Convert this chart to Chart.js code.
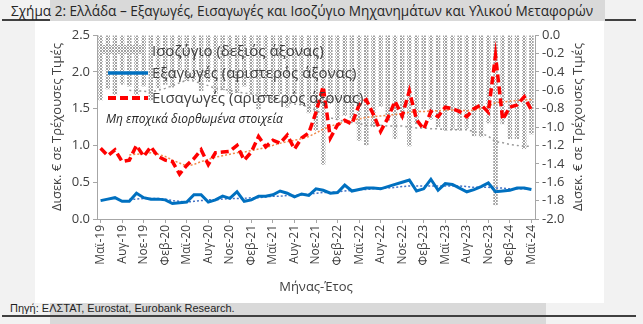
<!DOCTYPE html>
<html>
<head>
<meta charset="utf-8">
<script src="https://cdn.jsdelivr.net/npm/chart.js@4.4.1/dist/chart.umd.min.js"></script>
<style>
  html, body { margin: 0; padding: 0; background: #f2f2f2; }
  #wrap { position: relative; width: 643px; height: 324px; overflow: hidden; background: #f2f2f2;
          font-family: 'Open Sans', 'Noto Sans', sans-serif; color: #404040; }
  .abs { position: absolute; white-space: nowrap; }
  #panel { left: 35px; top: 21px; width: 569px; height: 282px; background: #fff; }
  #chart { position: absolute; left: 35px; top: 21px; }
  .leg { font-size: 15px; line-height: 20px; color: #404040; }
</style>
</head>
<body>
<div id="wrap">
  <div class="abs" style="left:2px;top:19px;width:634px;height:2px;background:#404040"></div>
  <div class="abs" style="left:50px;top:0;width:555px;height:21px;background:#d9d9d9"></div>
  <div class="abs" style="left:11px;top:2px;font-size:13.6px;line-height:18px;color:#262626">Σχήμα 2: Ελλάδα – Εξαγωγές, Εισαγωγές και Ισοζύγιο Μηχανημάτων και Υλικού Μεταφορών</div>

  <div class="abs" id="panel"></div>
  <div class="abs" style="left:50px;top:303px;width:496px;height:21px;background:#d9d9d9"></div>
  <div class="abs" style="left:2px;top:315px;width:634px;height:2px;background:#404040"></div>
  <div class="abs" style="left:10px;top:301px;font-family:'Liberation Sans Narrow','Liberation Sans',sans-serif;font-size:11px;line-height:14px;color:#1f1f1f">Πηγή: ΕΛΣΤΑΤ, Eurostat, Eurobank Research.</div>

  <canvas id="chart" width="569" height="282"></canvas>

  <!-- legend, drawn over the plot -->
  <div class="abs" id="legHatch" style="left:101px;top:45px;width:44px;height:9px"></div>
  <div class="abs leg" style="left:152px;top:40px">Ισοζύγιο (δεξιός άξονας)</div>
  <svg class="abs" style="left:106px;top:68px" width="44" height="10"><line x1="2" y1="5" x2="42" y2="5" stroke="#0070c0" stroke-width="3.5"/></svg>
  <div class="abs leg" style="left:152px;top:62px">Εξαγωγές (αριστερός άξονας)</div>
  <svg class="abs" style="left:106px;top:93px" width="44" height="10"><line x1="2" y1="5" x2="42" y2="5" stroke="#ff0000" stroke-width="4" stroke-dasharray="8 4"/></svg>
  <div class="abs leg" style="left:152px;top:87px">Εισαγωγές (αριστερός άξονας)</div>
  <div class="abs" style="left:106px;top:111px;font-size:12px;line-height:16px;font-style:italic;color:#262626">Μη εποχικά διορθωμένα στοιχεία</div>

  <div class="abs" style="left:577px;top:127px;font-size:13px;line-height:16px;transform:translate(-50%,-50%) rotate(-90deg)">Δισεκ. € σε Τρέχουσες Τιμές</div>
</div>

<script>
// ---- DATA (monthly, May 2019 - May 2024) ----
const months = [
  'Μαϊ-19','Ιουν-19','Ιουλ-19','Αυγ-19','Σεπ-19','Οκτ-19','Νοε-19','Δεκ-19',
  'Ιαν-20','Φεβ-20','Μαρ-20','Απρ-20','Μαϊ-20','Ιουν-20','Ιουλ-20','Αυγ-20','Σεπ-20','Οκτ-20','Νοε-20','Δεκ-20',
  'Ιαν-21','Φεβ-21','Μαρ-21','Απρ-21','Μαϊ-21','Ιουν-21','Ιουλ-21','Αυγ-21','Σεπ-21','Οκτ-21','Νοε-21','Δεκ-21',
  'Ιαν-22','Φεβ-22','Μαρ-22','Απρ-22','Μαϊ-22','Ιουν-22','Ιουλ-22','Αυγ-22','Σεπ-22','Οκτ-22','Νοε-22','Δεκ-22',
  'Ιαν-23','Φεβ-23','Μαρ-23','Απρ-23','Μαϊ-23','Ιουν-23','Ιουλ-23','Αυγ-23','Σεπ-23','Οκτ-23','Νοε-23','Δεκ-23',
  'Ιαν-24','Φεβ-24','Μαρ-24','Απρ-24','Μαϊ-24'
];

const exportsBn = [
  0.25,0.27,0.29,0.24,0.24,0.35,0.29,0.27,0.27,0.26,
  0.21,0.22,0.23,0.33,0.33,0.23,0.26,0.31,0.28,0.37,
  0.24,0.26,0.31,0.31,0.33,0.38,0.35,0.30,0.34,0.32,
  0.41,0.39,0.35,0.36,0.46,0.38,0.40,0.42,0.42,0.41,
  0.44,0.47,0.50,0.53,0.38,0.41,0.54,0.39,0.48,0.47,
  0.42,0.37,0.40,0.44,0.49,0.37,0.38,0.39,0.42,0.42,0.40
];

const importsBn = [
  0.96,0.86,0.94,0.78,0.80,1.00,0.85,0.98,0.85,0.80,
  0.78,0.61,0.73,0.82,0.94,0.74,0.90,0.91,0.92,1.00,
  0.80,0.91,1.12,0.98,1.07,1.03,1.14,0.95,1.10,1.17,
  1.45,1.80,1.10,1.28,1.34,1.29,1.55,1.62,1.42,1.19,
  1.37,1.60,1.40,1.74,1.35,1.22,1.46,1.39,1.52,1.50,
  1.46,1.39,1.50,1.55,1.45,2.22,1.35,1.52,1.55,1.66,1.48
];

const balanceBn = [
  -0.71,-0.59,-0.65,-0.54,-0.56,-0.65,-0.56,-0.71,-0.58,-0.54,
  -0.57,-0.39,-0.50,-0.49,-0.61,-0.51,-0.64,-0.60,-0.64,-0.63,
  -0.56,-0.65,-0.81,-0.67,-0.74,-0.65,-0.79,-0.65,-0.76,-0.85,
  -1.04,-1.41,-0.75,-0.92,-0.88,-0.91,-1.15,-1.20,-1.00,-0.78,
  -0.93,-1.13,-0.90,-1.21,-0.97,-0.81,-0.92,-1.00,-1.04,-1.03,
  -1.04,-1.02,-1.10,-1.11,-0.96,-1.85,-0.97,-1.13,-1.13,-1.24,-1.08
];

// trend lines (dotted)
const exportsTrend = [
  null,null,null,null,0.27,0.27,0.28,0.28,0.28,0.27,
  0.25,0.24,0.23,0.24,0.25,0.26,0.26,0.27,0.28,0.28,
  0.28,0.29,0.29,0.30,0.31,0.31,0.32,0.32,0.33,0.34,
  0.35,0.36,0.36,0.37,0.38,0.39,0.40,0.40,0.41,0.42,
  0.42,0.43,0.44,0.45,0.45,0.45,0.45,0.45,0.45,0.45,
  0.45,0.44,0.43,0.43,0.43,0.42,0.42,0.41,0.41,0.41,0.41
];

const importsTrend = [
  null,null,null,null,0.87,0.88,0.89,0.90,0.88,0.85,
  0.80,0.76,0.72,0.74,0.78,0.81,0.84,0.86,0.88,0.90,
  0.91,0.93,0.95,0.97,1.00,1.03,1.05,1.07,1.09,1.12,
  1.17,1.22,1.26,1.29,1.32,1.34,1.36,1.38,1.39,1.40,
  1.41,1.42,1.43,1.45,1.46,1.46,1.47,1.47,1.48,1.48,
  1.48,1.47,1.48,1.50,1.53,1.58,1.59,1.60,1.61,1.62,1.62
];

const balanceTrend = [
  null,null,null,null,-0.60,-0.61,-0.61,-0.62,-0.60,-0.58,
  -0.55,-0.52,-0.49,-0.50,-0.53,-0.55,-0.58,-0.59,-0.60,-0.62,
  -0.63,-0.64,-0.66,-0.67,-0.69,-0.72,-0.73,-0.75,-0.76,-0.78,
  -0.82,-0.86,-0.90,-0.92,-0.94,-0.95,-0.96,-0.98,-0.98,-0.98,
  -0.99,-0.99,-0.99,-1.00,-1.01,-1.01,-1.02,-1.02,-1.03,-1.03,
  -1.03,-1.03,-1.05,-1.07,-1.10,-1.16,-1.17,-1.19,-1.20,-1.21,-1.21
];

// ---- STYLE ----
const FONT = "'Open Sans', 'Noto Sans', sans-serif";
const TXT = '#404040';
const AXIS = '#a6a6a6';

// small grey "x" tile used for the balance columns
function makeHatchTile() {
  const c = document.createElement('canvas');
  c.width = 3; c.height = 3;
  const g = c.getContext('2d');
  g.fillStyle = '#ffffff';
  g.fillRect(0, 0, 3, 3);
  g.fillStyle = '#a3a3a3';
  [[0,0],[2,0],[1,1],[0,2],[2,2]].forEach(([x, y]) => g.fillRect(x, y, 1, 1));
  return c;
}
const tile = makeHatchTile();
document.getElementById('legHatch').style.background = `url(${tile.toDataURL()}) repeat`;

const canvas = document.getElementById('chart');
const hatch = canvas.getContext('2d').createPattern(tile, 'repeat');

new Chart(canvas, {
  type: 'bar',
  data: {
    labels: months,
    datasets: [
      {
        type: 'bar',
        label: 'Ισοζύγιο (δεξιός άξονας)',
        data: balanceBn,
        yAxisID: 'y1',
        backgroundColor: hatch,
        borderWidth: 0,
        barPercentage: 0.62,
        categoryPercentage: 1.0,
        order: 10,
      },
      {
        type: 'line',
        label: 'Ισοζύγιο τάση',
        data: balanceTrend,
        yAxisID: 'y1',
        borderColor: '#9a9a9a',
        borderWidth: 1.5,
        borderDash: [2, 3],
        pointRadius: 0,
        fill: false,
        order: 5,
      },
      {
        type: 'line',
        label: 'Εξαγωγές τάση',
        data: exportsTrend,
        yAxisID: 'y',
        borderColor: '#4472c4',
        borderWidth: 1.5,
        borderDash: [2, 2],
        pointRadius: 0,
        fill: false,
        order: 5,
      },
      {
        type: 'line',
        label: 'Εισαγωγές τάση',
        data: importsTrend,
        yAxisID: 'y',
        borderColor: '#f08a4b',
        borderWidth: 1.5,
        borderDash: [2, 2],
        pointRadius: 0,
        fill: false,
        order: 5,
      },
      {
        type: 'line',
        label: 'Εξαγωγές (αριστερός άξονας)',
        data: exportsBn,
        yAxisID: 'y',
        borderColor: '#0070c0',
        borderWidth: 3,
        pointRadius: 0,
        tension: 0,
        fill: false,
        order: 2,
      },
      {
        type: 'line',
        label: 'Εισαγωγές (αριστερός άξονας)',
        data: importsBn,
        yAxisID: 'y',
        borderColor: '#ff0000',
        borderWidth: 3.5,
        borderDash: [8, 4],
        pointRadius: 0,
        tension: 0,
        fill: false,
        order: 1,
      }
    ]
  },
  options: {
    responsive: false,
    animation: false,
    layout: { padding: { top: 14, left: 14, right: 0, bottom: 4 } },
    plugins: {
      legend: { display: false },
      tooltip: { enabled: false }
    },
    scales: {
      x: {
        offset: true,
        afterFit: s => { s.height = 80; },
        grid: {
          drawOnChartArea: false,
          offset: false,
          tickLength: 4,
          tickColor: ctx => (ctx.index % 3 === 0 ? AXIS : 'rgba(0,0,0,0)'),
        },
        border: { color: AXIS },
        ticks: {
          autoSkip: false,
          maxRotation: 90,
          minRotation: 90,
          padding: 2,
          color: TXT,
          font: { family: FONT, size: 12 },
          callback: (v, i) => (i % 3 === 0 ? months[i] : ''),
        },
        title: {
          display: true,
          text: 'Μήνας-Έτος',
          color: TXT,
          font: { family: FONT, size: 13 },
          padding: { top: 2, bottom: 4 },
        }
      },
      y: {
        position: 'left',
        min: 0,
        max: 2.5,
        afterFit: s => { s.width = 48; },
        grid: { drawOnChartArea: false, tickLength: 4, tickColor: AXIS },
        border: { color: AXIS },
        ticks: {
          stepSize: 0.5,
          autoSkip: false,
          padding: 3,
          color: TXT,
          font: { family: FONT, size: 13 },
          callback: v => v.toFixed(1),
        },
        title: {
          display: true,
          text: 'Δισεκ. € σε Τρέχουσες Τιμές',
          color: TXT,
          font: { family: FONT, size: 13 },
          padding: { top: 0, bottom: 0 },
        }
      },
      y1: {
        position: 'right',
        min: -2,
        max: 0,
        afterFit: s => { s.width = 69; },
        grid: { drawOnChartArea: false, tickLength: 4, tickColor: AXIS },
        border: { color: AXIS },
        ticks: {
          stepSize: 0.2,
          autoSkip: false,
          padding: 3,
          color: TXT,
          font: { family: FONT, size: 13 },
          callback: v => (Math.abs(v) < 1e-9 ? '0.0' : v.toFixed(1)),
        }
      }
    }
  }
});
</script>
</body>
</html>
